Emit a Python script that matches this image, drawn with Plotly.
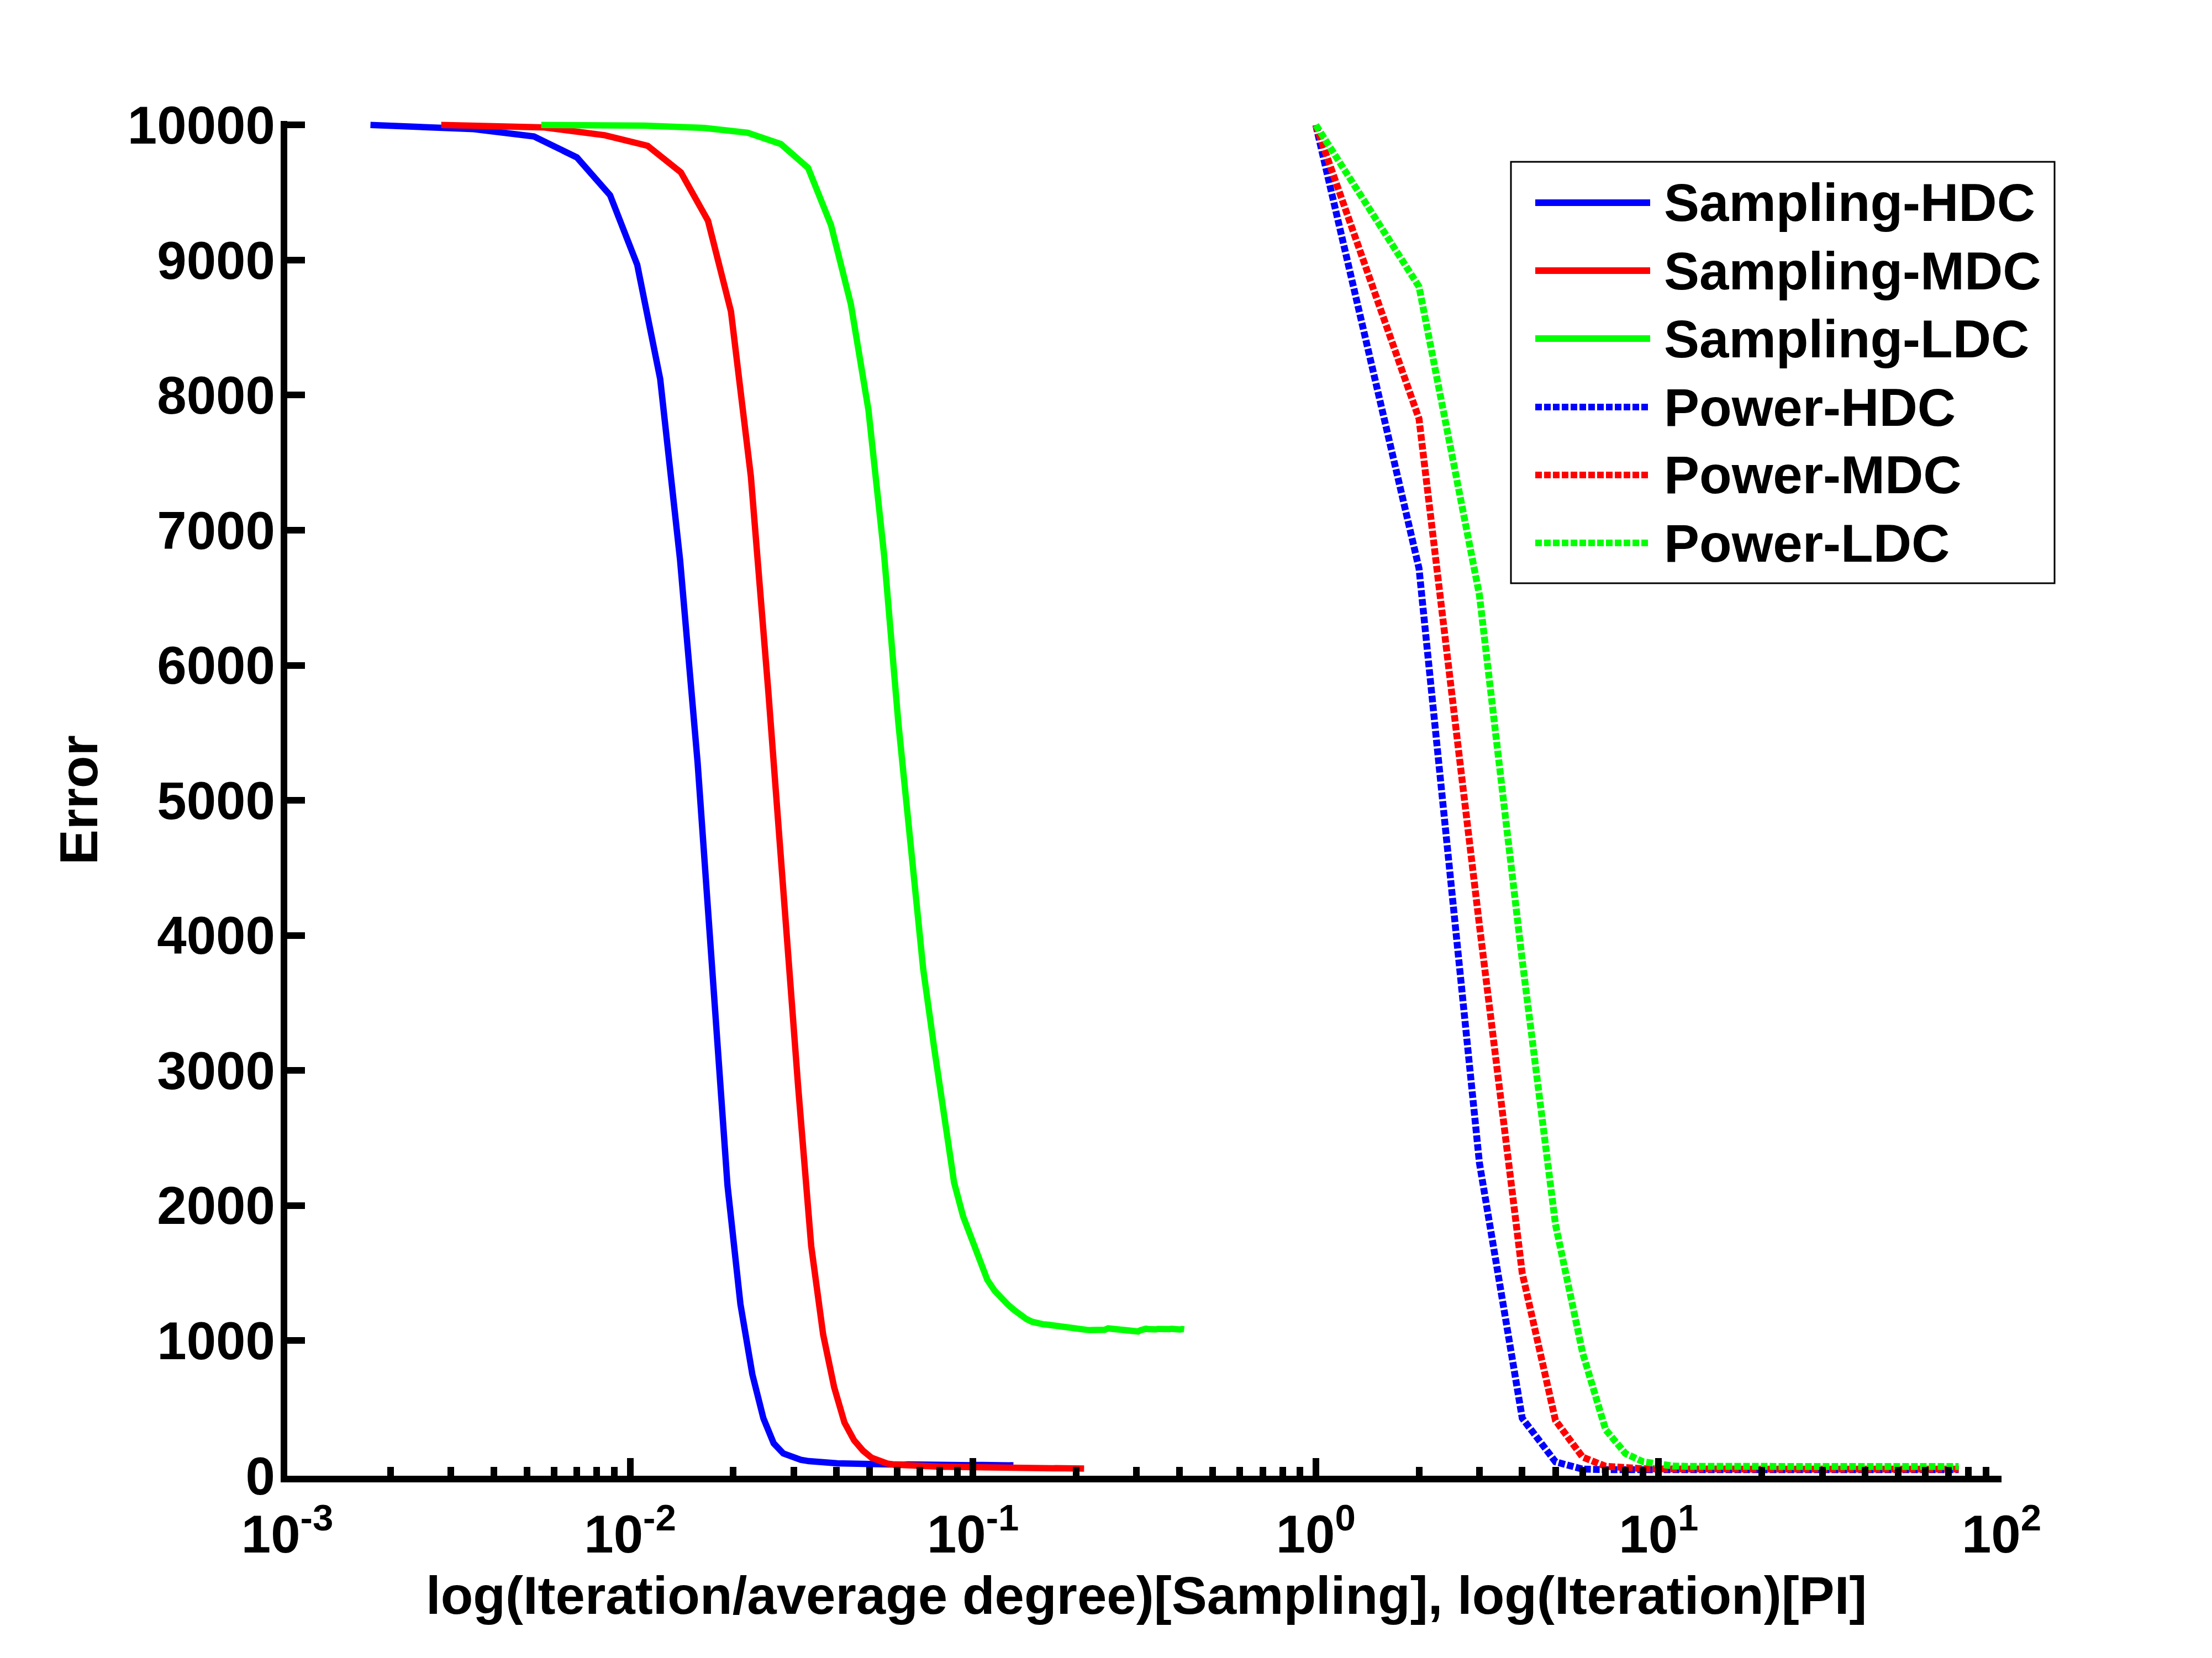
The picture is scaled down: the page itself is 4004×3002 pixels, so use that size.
import plotly.graph_objects as go

# ---------------- data ----------------
iterations = list(range(1, 76))

# average degree used to normalise the sampling iterations
avg_degree_hdc = 572.0
avg_degree_mdc = 355.6
avg_degree_ldc = 181.6

sampling_hdc = [10000, 9970, 9915, 9760, 9480, 8965, 8120, 6780, 5280, 3590,
                2150, 1270, 750, 425, 240, 165, 135, 118, 108, 101,
                97, 95, 92, 91, 89, 88, 88, 86, 87, 85,
                86, 84, 85, 83, 84, 82, 84, 83, 82, 83,
                81, 83, 82, 80, 82, 81, 80, 82, 81, 80,
                81, 79, 80, 81, 79, 80, 78, 80, 79, 78,
                79, 80, 78, 79, 77, 79, 78, 77, 79, 78,
                77, 78, 77, 78, 77]

sampling_mdc = [10000, 9982, 9924, 9846, 9650, 9291, 8620, 7400, 5800, 4240,
                2870, 1700, 1046, 655, 394, 263, 185, 133, 107, 90,
                82, 78, 74, 72, 70, 69, 68, 67, 66, 66,
                65, 64, 65, 63, 64, 62, 63, 62, 61, 62,
                61, 60, 61, 59, 60, 59, 60, 58, 59, 58,
                58, 57, 58, 57, 56, 57, 56, 57, 55, 56,
                55, 56, 55, 54, 55, 54, 55, 54, 53, 54,
                53, 54, 53, 52, 53]

sampling_ldc = [10000, 9995, 9978, 9943, 9859, 9683, 9259, 8672, 7890, 6815,
                5576, 4566, 3751, 3164, 2643, 2170, 1920, 1745, 1585, 1450,
                1370, 1310, 1265, 1225, 1190, 1160, 1140, 1128, 1122, 1118,
                1112, 1106, 1102, 1099, 1097, 1092, 1088, 1085, 1080, 1078,
                1076, 1074, 1072, 1080, 1091, 1088, 1084, 1082, 1079, 1077,
                1075, 1070, 1066, 1062, 1068, 1078, 1085, 1088, 1086, 1083,
                1081, 1084, 1087, 1085, 1080, 1078, 1082, 1086, 1088, 1085,
                1082, 1080, 1083, 1086, 1084]

power_hdc = [10000, 6717, 2317, 426, 103, 49, 45, 45, 44, 45,
             45, 45, 45, 45, 45, 45, 45, 45, 45, 45,
             45, 45, 45, 45, 45, 45, 45, 45, 45, 45,
             45, 45, 45, 45, 45, 45, 45, 45, 45, 45,
             45, 45, 45, 45, 45, 45, 45, 45, 45, 45,
             45, 45, 45, 45, 45, 45, 45, 45, 45, 45,
             45, 45, 45, 45, 45, 45, 45, 45, 45, 45,
             45, 45, 45, 45, 45]

power_mdc = [10000, 7825, 4077, 1500, 410, 138, 70, 56, 52, 50,
             49, 49, 49, 49, 49, 49, 49, 49, 49, 49,
             49, 49, 49, 49, 49, 49, 49, 49, 49, 49,
             49, 49, 49, 49, 49, 49, 49, 49, 49, 49,
             49, 49, 49, 49, 49, 49, 49, 49, 49, 49,
             49, 49, 49, 49, 49, 49, 49, 49, 49, 49,
             49, 49, 49, 49, 49, 49, 49, 49, 49, 49,
             49, 49, 49, 49, 49]

power_ldc = [10000, 8803, 6521, 3816, 1861, 910, 342, 165, 104, 83,
             72, 70, 69, 68, 68, 68, 68, 68, 68, 68,
             68, 68, 68, 68, 68, 68, 68, 68, 68, 68,
             68, 68, 68, 68, 68, 68, 68, 68, 68, 68,
             68, 68, 68, 68, 68, 68, 68, 68, 68, 68,
             68, 68, 68, 68, 68, 68, 68, 68, 68, 68,
             68, 68, 68, 68, 68, 68, 68, 68, 68, 68,
             68, 68, 68, 68, 68]

legend_names = ["Sampling-HDC", "Sampling-MDC", "Sampling-LDC",
                "Power-HDC", "Power-MDC", "Power-LDC"]

x_tick_vals = [1e-3, 1e-2, 1e-1, 1e0, 1e1, 1e2]
x_tick_text = ["10<sup>-3</sup>", "10<sup>-2</sup>", "10<sup>-1</sup>",
               "10<sup>0</sup>", "10<sup>1</sup>", "10<sup>2</sup>"]
y_tick_vals = [0, 1000, 2000, 3000, 4000, 5000, 6000, 7000, 8000, 9000, 10000]
y_tick_text = [str(v) for v in y_tick_vals]

# ---------------- style ----------------
BLUE, RED, GREEN = "#0000FF", "#FF0000", "#00FF00"
FONT = dict(family="Liberation Sans, Arial, sans-serif", size=96, color="black", weight="bold")
SOLID_W = 11.5
DOT_W = 12.5
DOT_DASH = "12px,4px"

W, H = 4004, 3002
PL, PR, PT, PB = 520, 3623, 219, 2672  # plot area in pixels


def px_x(px):
    return (px - PL) / (PR - PL)


def px_y(py):
    return (PB - py) / (PB - PT)


fig = go.Figure()

sampling = [
    ([k / avg_degree_hdc for k in iterations], sampling_hdc, BLUE),
    ([k / avg_degree_mdc for k in iterations], sampling_mdc, RED),
    ([k / avg_degree_ldc for k in iterations], sampling_ldc, GREEN),
]
power = [
    (iterations, power_hdc, BLUE),
    (iterations, power_mdc, RED),
    (iterations, power_ldc, GREEN),
]

for i, (xs, ys, c) in enumerate(sampling):
    fig.add_trace(go.Scatter(x=xs, y=ys, mode="lines", name=legend_names[i],
                             line=dict(color=c, width=SOLID_W), showlegend=False))
for i, (xs, ys, c) in enumerate(power):
    fig.add_trace(go.Scatter(x=xs, y=ys, mode="lines", name=legend_names[3 + i],
                             line=dict(color=c, width=DOT_W, dash=DOT_DASH), showlegend=False))

minor_vals = []
for dec in [1e-3, 1e-2, 1e-1, 1e0, 1e1]:
    for m in range(2, 10):
        minor_vals.append(m * dec)

fig.update_xaxes(type="log", range=[-3, 2], showline=True, linewidth=12, linecolor="black",
                 ticks="inside", ticklen=32, tickwidth=12, tickcolor="black",
                 tickmode="array", tickvals=x_tick_vals, ticktext=x_tick_text,
                 tickfont=FONT, showgrid=False, zeroline=False, ticklabelstandoff=12,
                 minor=dict(ticks="inside", ticklen=16, tickwidth=12, tickcolor="black",
                            tickvals=minor_vals, showgrid=False))
fig.update_yaxes(range=[0, 10030], showline=True, linewidth=12, linecolor="black",
                 ticks="inside", ticklen=32, tickwidth=12, tickcolor="black",
                 tickmode="array", tickvals=y_tick_vals, ticktext=y_tick_text,
                 tickfont=FONT, showgrid=False, zeroline=False, ticklabelstandoff=-9)

shapes = []
annotations = []
# legend box
shapes.append(dict(type="rect", xref="paper", yref="paper",
                   x0=px_x(2735), x1=px_x(3719), y0=px_y(1056), y1=px_y(293),
                   line=dict(color="black", width=3), fillcolor="white", layer="above"))
row_y = [367, 490, 613, 737, 860, 983]
row_col = [BLUE, RED, GREEN, BLUE, RED, GREEN]
for i, name in enumerate(legend_names):
    dotted = i >= 3
    shapes.append(dict(type="line", xref="paper", yref="paper",
                       x0=px_x(2779), x1=px_x(2987), y0=px_y(row_y[i]), y1=px_y(row_y[i]),
                       line=dict(color=row_col[i], width=12,
                                 dash=DOT_DASH if dotted else "solid"),
                       layer="above"))
    annotations.append(dict(text=name, xref="paper", yref="paper",
                            x=px_x(3010), y=px_y(row_y[i]), xanchor="left", yanchor="middle",
                            showarrow=False, font=FONT))

annotations.append(dict(text="Error", xref="paper", yref="paper", x=px_x(142), y=px_y(1449),
                        textangle=-90, xanchor="center", yanchor="middle", showarrow=False, font=FONT))
annotations.append(dict(text="log(Iteration/average degree)[Sampling], log(Iteration)[PI]",
                        xref="paper", yref="paper", x=px_x(2075), y=px_y(2888),
                        xanchor="center", yanchor="middle", showarrow=False, font=FONT))

fig.update_layout(width=W, height=H, autosize=False,
                  margin=dict(l=PL, r=W - PR, t=PT, b=H - PB, pad=0),
                  paper_bgcolor="white", plot_bgcolor="white",
                  showlegend=False, shapes=shapes, annotations=annotations)

fig.write_html("out.html", config={"displayModeBar": False},
               post_script="document.body.style.margin='0px';")
